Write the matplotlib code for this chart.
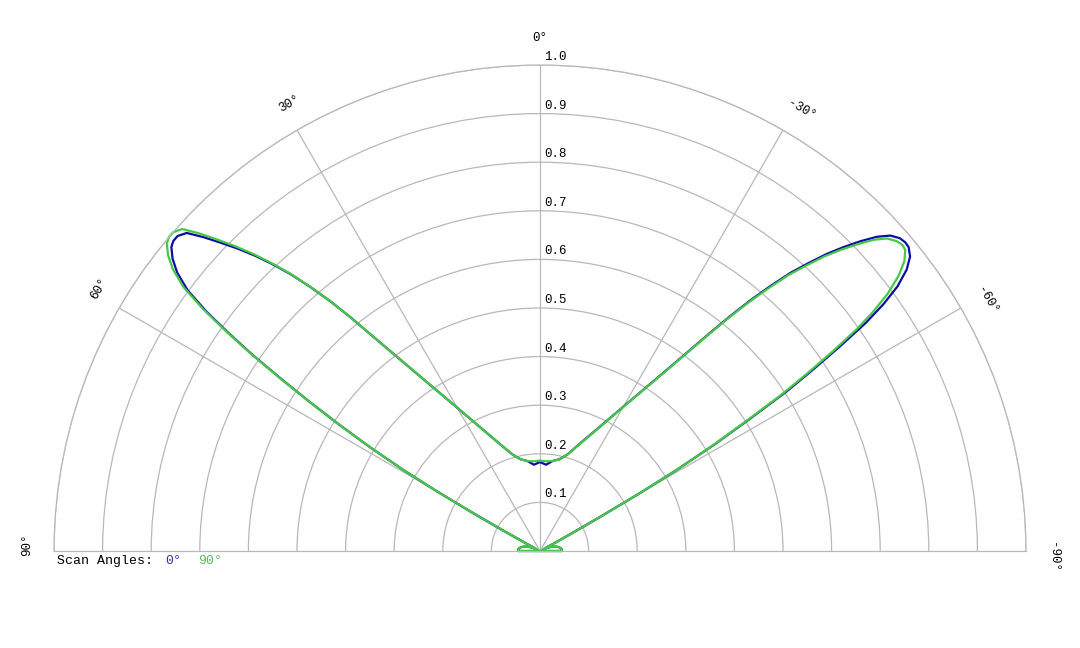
import numpy as np
import matplotlib
matplotlib.use('Agg')
import matplotlib.pyplot as plt

# ---- data ----
# angles (deg, 0 = boresight, positive to the left), one half of the grid
half_angles = [90, 86, 82, 78, 74, 70, 66, 63, 62, 61.5, 61.0, 60.5, 59.9, 59.3, 58.6, 57.8,
               57.1, 56.4, 55.7, 55.0, 54.3, 53.5, 52.5, 51.5, 50.5, 49.8, 49.0, 48.0, 47.0,
               46.0, 45.0, 44.0, 43.0, 42.0, 41.0, 40.0, 39.0, 38.0, 36.0, 34.0, 32.0, 30.0,
               28.0, 24.0, 20.0, 16.0, 12.0, 8.0, 4.0]

# scan angle 0 deg (blue): left side (positive angles, listed 90 -> 4), boresight, right side (listed 4 -> 90)
scan0_left = [0.045, 0.045, 0.043, 0.039, 0.033, 0.025, 0.016, 0.008, 0.012, 0.030, 0.090,
              0.160, 0.250, 0.330, 0.410, 0.490, 0.563, 0.637, 0.716, 0.784, 0.847, 0.902,
              0.941, 0.966, 0.983, 0.988, 0.988, 0.978, 0.947, 0.913, 0.880, 0.845, 0.807,
              0.766, 0.719, 0.670, 0.617, 0.564, 0.483, 0.423, 0.377, 0.340, 0.310, 0.264,
              0.231, 0.207, 0.193, 0.187, 0.178]
scan0_center = 0.183
scan0_right = [0.178, 0.187, 0.193, 0.207, 0.233, 0.266, 0.312, 0.343, 0.380, 0.427, 0.488,
               0.572, 0.622, 0.673, 0.722, 0.770, 0.810, 0.850, 0.885, 0.918, 0.948, 0.970,
               0.981, 0.984, 0.983, 0.973, 0.951, 0.915, 0.870, 0.818, 0.747, 0.675, 0.604,
               0.510, 0.420, 0.330, 0.240, 0.140, 0.070, 0.030, 0.012, 0.008, 0.016, 0.025,
               0.033, 0.039, 0.043, 0.045, 0.045]

# scan angle 90 deg (green)
scan90_left = [0.045, 0.045, 0.043, 0.039, 0.033, 0.025, 0.016, 0.008, 0.012, 0.030, 0.090,
               0.160, 0.250, 0.330, 0.410, 0.490, 0.565, 0.640, 0.720, 0.790, 0.855, 0.912,
               0.952, 0.978, 0.995, 1.000, 1.000, 0.990, 0.958, 0.922, 0.887, 0.850, 0.810,
               0.768, 0.720, 0.670, 0.617, 0.564, 0.483, 0.423, 0.377, 0.340, 0.310, 0.264,
               0.231, 0.207, 0.193, 0.187, 0.185]
scan90_center = 0.186
scan90_right = [0.185, 0.187, 0.193, 0.207, 0.232, 0.265, 0.311, 0.342, 0.379, 0.425, 0.486,
                0.569, 0.618, 0.668, 0.716, 0.764, 0.803, 0.843, 0.877, 0.909, 0.939, 0.961,
                0.972, 0.976, 0.974, 0.958, 0.930, 0.890, 0.845, 0.795, 0.730, 0.660, 0.590,
                0.500, 0.415, 0.330, 0.240, 0.140, 0.070, 0.030, 0.012, 0.008, 0.016, 0.025,
                0.033, 0.039, 0.043, 0.045, 0.045]

r_ticks = [0.1, 0.2, 0.3, 0.4, 0.5, 0.6, 0.7, 0.8, 0.9, 1.0]
r_tick_labels = ['0.1', '0.2', '0.3', '0.4', '0.5', '0.6', '0.7', '0.8', '0.9', '1.0']
theta_ticks = [90, 60, 30, 0, -30, -60, -90]
theta_tick_labels = ['90°', '60°', '30°', '0°', '-30°', '-60°', '-90°']

series_names = ['0°', '90°']
series_colors = ['#0c0ca6', '#46c846']
legend_colors = ['#3434a8', '#58c058']

# ---- plot ----
FONT = 'Liberation Mono'
W, H = 1080, 648
fig = plt.figure(figsize=(W / 100, H / 100), dpi=100)
# square box (polar axes keep equal aspect); semicircle centred inside it
ax = fig.add_axes([54 / W, -146 / H, 972 / W, 972 / H], projection='polar')
ax.set_theta_zero_location('N')
ax.set_theta_direction(1)
ax.set_thetamin(-90)
ax.set_thetamax(90)
ax.set_rlim(0, 1.0)

grid_col = '#b8b8b8'
ax.set_rticks(r_ticks)
ax.set_yticklabels([])
ax.set_xticks(np.deg2rad([60, 30, 0, -30, -60]))
ax.set_xticklabels([])
ax.grid(True, color=grid_col, linewidth=0.9)
for s in ax.spines.values():
    s.set_color(grid_col)
    s.set_linewidth(0.9)
ax.tick_params(length=0)

ha_arr = np.array(half_angles, dtype=float)
angles = np.concatenate([ha_arr, [0.0], -ha_arr[::-1]])
th = np.deg2rad(angles)
series = [
    np.concatenate([scan0_left, [scan0_center], scan0_right]),
    np.concatenate([scan90_left, [scan90_center], scan90_right]),
]
for vals, col in zip(series, series_colors):
    t = np.concatenate([[th[0]], th, [th[-1]], [th[0]]])
    r = np.concatenate([[0.0], vals, [0.0], [0.0]])
    ax.plot(t, r, color=col, linewidth=1.6, clip_on=False,
            solid_joinstyle='round', solid_capstyle='round')

# radial labels
for rv, lab in zip(r_ticks, r_tick_labels):
    ax.annotate(lab, xy=(0, rv), xytext=(3, 1.5), textcoords='offset points',
                ha='left', va='bottom', fontsize=9, family=FONT, color='black')

# angle labels
for a, lab in zip(theta_ticks, theta_tick_labels):
    shift = 0.0 if a == 0 else -0.7
    ax.text(np.deg2rad(a + shift), 1.055, lab, rotation=a, rotation_mode='anchor',
            ha='center', va='center', fontsize=9, family=FONT, color='black', clip_on=False)

# legend text
y = 1 - 561 / H
fig.text(57 / W, y, 'Scan Angles:', ha='left', va='center', fontsize=9.5, family=FONT, color='black')
fig.text(165 / W, y, series_names[0], ha='left', va='center', fontsize=9.5, family=FONT, color=legend_colors[0])
fig.text(198 / W, y, series_names[1], ha='left', va='center', fontsize=9.5, family=FONT, color=legend_colors[1])

fig.savefig('out.png', dpi=100)
